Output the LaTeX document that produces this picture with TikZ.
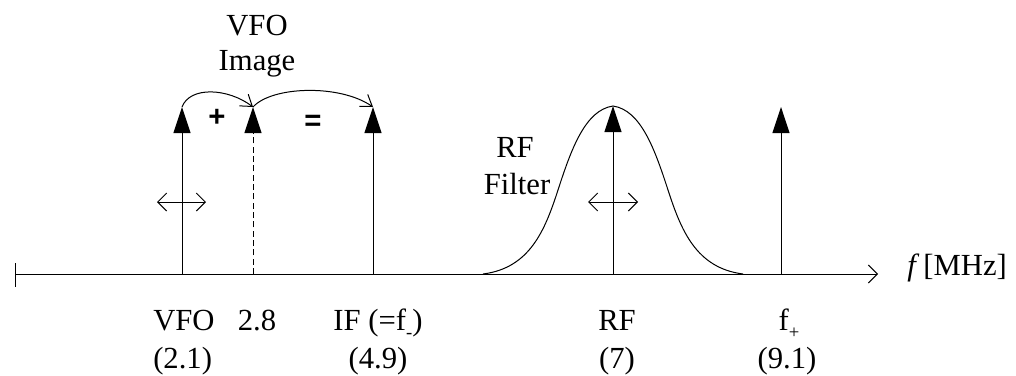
\documentclass[tikz,border=0pt]{standalone}
\usepackage{fontspec}
\setmainfont{Liberation Serif}
\newfontfamily\opfont{Liberation Sans}
\usetikzlibrary{arrows.meta}
\newcommand\lowsub[1]{\raisebox{-0.28em}{\fontsize{14}{14}\selectfont #1}}
\tikzset{
  openbarb/.tip={Straight Barb[length=6.75pt,width=13.5pt]},
  arcbarb/.tip={Straight Barb[length=8pt,width=11pt]},
  spiketip/.tip={Triangle[length=19.5pt,width=12.75pt]}
}
\begin{document}
\begin{tikzpicture}[x=0.75pt,y=-0.75pt,
  thinline/.style={line width=0.75pt},
  spike/.style={thinline,-{spiketip}},
  lbl/.style={font=\fontsize{23}{27}\selectfont,inner sep=0pt,anchor=base},
  op/.style={font=\opfont\bfseries\fontsize{22}{26}\selectfont,inner sep=0pt}]
\useasboundingbox (0,0) rectangle (1016,375);
% axis
\coordinate (o) at (15,274);
\coordinate (axend) at (878,274);
\coordinate (tickT) at (15,263);
\coordinate (tickB) at (15,287);
\draw[thinline,-{openbarb}] (o) -- (axend);
\draw[thinline] (tickT) -- (tickB);
% spikes
\coordinate (vfoB) at (182,274); \coordinate (vfoT) at (182,107);
\coordinate (imB) at (253,274);  \coordinate (imT) at (253,107);
\coordinate (ifB) at (373,274);  \coordinate (ifT) at (373,107);
\coordinate (rfB) at (613,274);  \coordinate (rfT) at (613,106);
\coordinate (fpB) at (781,274);  \coordinate (fpT) at (781,107);
\draw[spike] (vfoB) -- (vfoT);
\draw[spike,dash pattern=on 4.5pt off 2.5pt] (imB) -- (imT);
\draw[spike] (ifB) -- (ifT);
\draw[spike] (rfB) -- (rfT);
\draw[spike] (fpB) -- (fpT);
% filter curve
\coordinate (fL) at (483,274);
\coordinate (fM1) at (558,190);
\coordinate (fM2) at (668,190);
\coordinate (fR) at (743,274);
\draw[thinline] (fL) .. controls (530,268) and (545,230) .. (fM1)
  .. controls (571,150) and (585,110) .. (rfT)
  .. controls (641,110) and (655,150) .. (fM2)
  .. controls (681,230) and (696,268) .. (fR);
% tuning arrows
\coordinate (d1L) at (157,202); \coordinate (d1R) at (206,202);
\coordinate (d2L) at (588,202); \coordinate (d2R) at (638,202);
\draw[thinline,{openbarb}-{openbarb}] (d1L) -- (d1R);
\draw[thinline,{openbarb}-{openbarb}] (d2L) -- (d2R);
% arcs
\draw[thinline,-{arcbarb}] (vfoT) .. controls (190,86) and (228,88) .. (imT);
\draw[thinline,-{arcbarb}] (imT) .. controls (272,86) and (340,84) .. (ifT);
\node[op] (plus) at (217,118) {+};
\node[op] (eq) at (313,123) {=};
% top labels
\node[lbl] (vfoimg1) at (257,35) {VFO};
\node[lbl] (vfoimg2) at (257,70) {Image};
\node[lbl] (rff1) at (515,157) {RF};
\node[lbl] (rff2) at (517,194) {Filter};
% bottom labels
\node[lbl,anchor=base west] (l1a) at (153,330) {VFO};
\node[lbl,anchor=base west] (l1b) at (153,368) {(2.1)};
\node[lbl] (l2a) at (257,330) {2.8};
\node[lbl] (l3a) at (378,330) {IF (=f\lowsub{-})};
\node[lbl] (l3b) at (378,368) {(4.9)};
\node[lbl] (l4a) at (617,330) {RF};
\node[lbl] (l4b) at (617,368) {(7)};
\node[lbl] (l5a) at (789,330) {f\lowsub{+}};
\node[lbl] (l5b) at (787,368) {(9.1)};
\node[lbl,anchor=base west] (axlbl) at (907,275) {\itshape f\upshape\ [MHz]};
\end{tikzpicture}
\end{document}
